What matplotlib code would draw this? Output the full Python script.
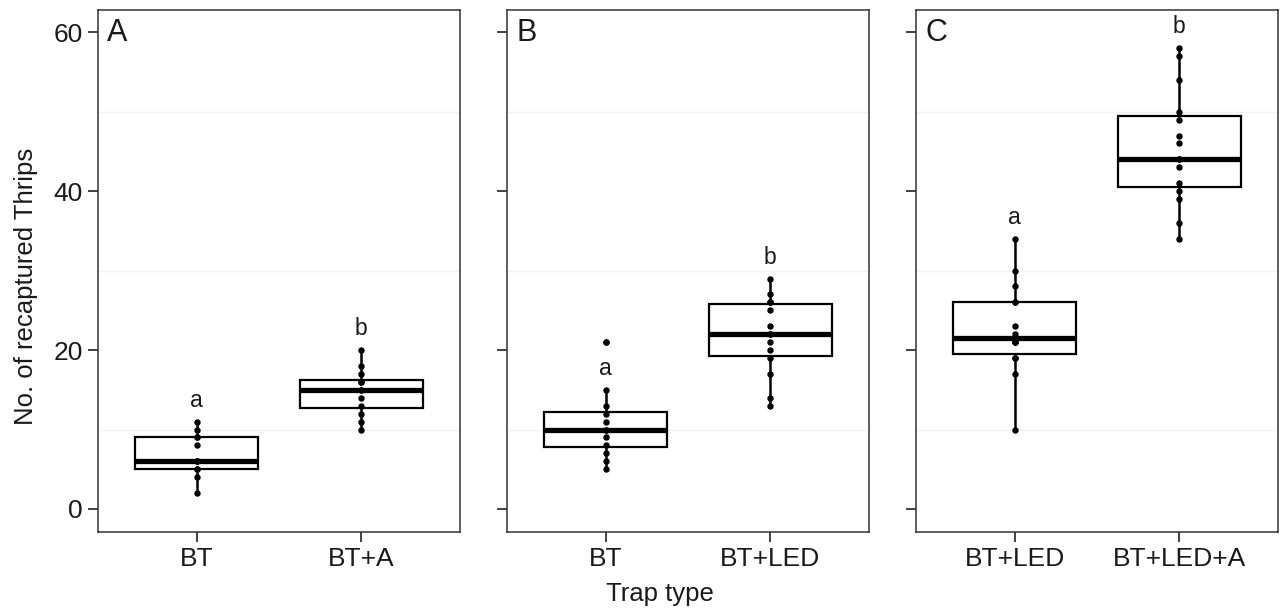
import matplotlib
matplotlib.use("Agg")
import matplotlib.pyplot as plt
from matplotlib.ticker import FixedLocator

plt.rcParams["font.family"] = ["Liberation Sans", "DejaVu Sans"]

panel_labels = ["A", "B", "C"]
trap_types = [["BT", "BT+A"], ["BT", "BT+LED"], ["BT+LED", "BT+LED+A"]]
group_letters = [["a", "b"], ["a", "b"], ["a", "b"]]

# recaptured thrips per trap, one list per trap type
a_bt = [2, 4, 5, 5, 6, 6, 6, 8, 9, 9, 10, 11]
a_bt_a = [10, 11, 12, 13, 14, 15, 15, 16, 16, 17, 18, 20]
b_bt = [5, 6, 7, 8, 9, 10, 10, 11, 12, 13, 15, 21]
b_bt_led = [13, 14, 17, 19, 20, 21, 22, 22, 23, 25, 26, 26, 27, 29]
c_bt_led = [10, 17, 19, 19, 21, 21, 21, 22, 23, 26, 26, 28, 30, 34]
c_bt_led_a = [34, 36, 39, 40, 41, 43, 44, 44, 46, 47, 49, 50, 54, 57, 58]

panel_counts = [[a_bt, a_bt_a], [b_bt, b_bt_led], [c_bt_led, c_bt_led_a]]
y_ticks = [0, 20, 40, 60]
y_minor = [10, 30, 50]


def draw_panel(ax, counts, names, letters, label, show_y):
    positions = [1, 2]
    bp = ax.boxplot(
        counts,
        positions=positions,
        widths=0.75,
        patch_artist=True,
        showcaps=False,
        boxprops=dict(facecolor="white", edgecolor="black", linewidth=1.6),
        medianprops=dict(color="black", linewidth=3.8),
        whiskerprops=dict(color="black", linewidth=1.8),
        flierprops=dict(marker="o", markersize=3.6, markerfacecolor="black",
                        markeredgecolor="black"),
    )
    for pos, vals in zip(positions, counts):
        ax.plot([pos] * len(vals), vals, "o", markersize=3.6, color="black",
                zorder=4)

    # significance letters sit just above each upper whisker
    for i, (pos, letter) in enumerate(zip(positions, letters)):
        top = bp["whiskers"][2 * i + 1].get_ydata()[1]
        ax.text(pos, top + 2.7, letter, ha="center", va="center",
                fontsize=16.5, color="#1a1a1a")

    ax.set_xlim(0.4, 2.6)
    ax.set_ylim(-2.86, 62.8)
    ax.set_xticks(positions)
    ax.set_xticklabels(names)
    ax.set_yticks(y_ticks)
    ax.yaxis.set_minor_locator(FixedLocator(y_minor))
    if not show_y:
        ax.set_yticklabels([])
    ax.tick_params(which="major", length=7, width=1.3, color="#333333",
                   labelsize=19, labelcolor="#1a1a1a", pad=4)
    ax.tick_params(which="minor", length=0)
    ax.grid(which="minor", axis="y", color="#f2f2f2", linewidth=1)
    ax.set_axisbelow(True)
    for spine in ax.spines.values():
        spine.set_color("#333333")
        spine.set_linewidth(1.1)
    ax.text(0.026, 0.984, label, transform=ax.transAxes, ha="left", va="top",
            fontsize=22, color="#1a1a1a")


def main():
    fig = plt.figure(figsize=(12.88, 6.10), dpi=100)
    lefts = [98 / 1288, 507 / 1288, 916 / 1288]
    for i, left in enumerate(lefts):
        ax = fig.add_axes([left, 0.1284, 0.2811, 0.8552])
        draw_panel(ax, panel_counts[i], trap_types[i], group_letters[i],
                   panel_labels[i], show_y=(i == 0))

    fig.text(0.02, 0.53, "No. of recaptured Thrips", rotation=90,
             ha="center", va="center", fontsize=18.5, color="#1a1a1a")
    fig.text(0.512, 0.027, "Trap type", ha="center", va="center",
             fontsize=18.5, color="#1a1a1a")
    fig.savefig("out.png", dpi=100)


if __name__ == "__main__":
    main()
